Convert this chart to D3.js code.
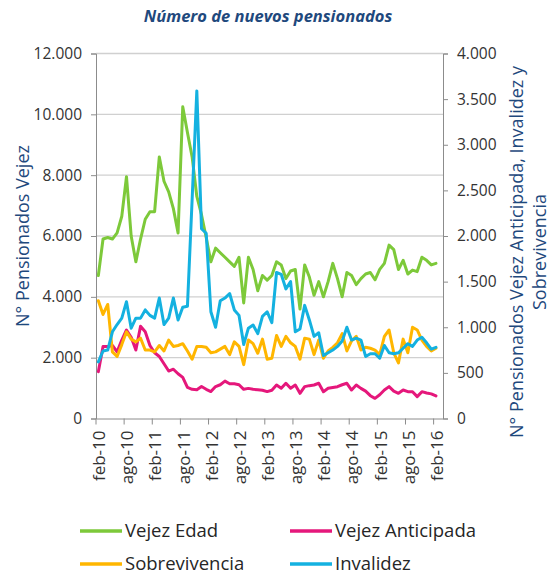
<!DOCTYPE html>
<html lang="es">
<head>
<meta charset="UTF-8">
<title>Número de nuevos pensionados</title>
<script src="https://d3js.org/d3.v7.min.js"></script>
<style>
  body { margin: 0; background: #fff; }
  svg text { font-family: "Open Sans", "Liberation Sans", sans-serif; }
  .tick text { fill: #333; font-size: 15.5px; }
  .x-axis .tick text { font-size: 17px; }
  .domain { stroke: #8c8c8c; }
  .tick line { stroke: #8c8c8c; }
  .grid line { stroke: #d0d0d0; stroke-width: 1.3; }
  .axis-title { fill: #1f497d; font-size: 18px; }
  .legend text { fill: #262626; font-size: 18.5px; }
</style>
</head>
<body>
<div id="chart"></div>
<script>
// months feb-10 .. mar-16 (last category has no data)
const meses = ["ene", "feb", "mar", "abr", "may", "jun", "jul", "ago", "sep", "oct", "nov", "dic"];
const categories = [];
for (let k = 1; k <= 74; k++) {
  const m = k % 12, y = 10 + Math.floor(k / 12);
  categories.push(meses[m] + "-" + y);
}
const tickLabels = ["feb-10", "ago-10", "feb-11", "ago-11", "feb-12", "ago-12", "feb-13",
                    "ago-13", "feb-14", "ago-14", "feb-15", "ago-15", "feb-16"];

// Vejez Edad (left axis)
const vejezEdad = [
  4700, 5900, 5950, 5900, 6100, 6650, 7950, 6000, 5150, 5900,
  6550, 6800, 6800, 8600, 7800, 7450, 6900, 6100, 10250, 9400,
  8600, 7300, 6700, 5950, 5150, 5600, 5450, 5300, 5150, 5000,
  5300, 3800, 5300, 4900, 4200, 4700, 4550, 4700, 5150, 5050,
  4600, 4850, 4900, 3600, 5050, 4650, 4050, 4500, 4000, 4500,
  5100, 4600, 4000, 4800, 4700, 4400, 4600, 4750, 4800, 4560,
  4900, 5100, 5700, 5550, 4900, 5200, 4750, 4880, 4830, 5300,
  5200, 5050, 5100
];
// right axis series
const vejezAnticipada = [
  513, 790, 790, 800, 730, 860, 970, 890, 750, 1010,
  950, 800, 720, 680, 600, 520, 540, 490, 450, 340,
  320, 315, 350, 320, 295, 350, 370, 410, 380, 380,
  370, 320, 330, 320, 315, 310, 295, 310, 367, 331,
  386, 331, 367, 276, 349, 360, 367, 386, 294, 331,
  340, 349, 370, 386, 312, 367, 330, 300, 250, 221,
  260, 312, 349, 300, 276, 312, 294, 294, 240, 294,
  280, 270, 247
];
const sobrevivencia = [
  1290, 1140, 1250, 730, 680, 810, 950, 870, 840, 880,
  750, 750, 730, 800, 740, 860, 790, 800, 820, 740,
  650, 790, 790, 780, 720, 730, 760, 790, 700, 840,
  790, 590, 860, 820, 715, 870, 650, 660, 910, 790,
  900, 830, 790, 650, 880, 870, 700, 860, 660, 740,
  780, 830, 930, 740, 850, 900, 750, 780, 770, 750,
  700, 900, 970, 720, 610, 870, 720, 1000, 970, 860,
  790, 740, 770
];
const invalidez = [
  620, 740, 750, 950, 1030, 1100, 1280, 990, 1100, 1100,
  1190, 1130, 1100, 1320, 1030, 1100, 1320, 1080, 1220, 1230,
  2400, 3590, 2080, 2030, 1170, 1000, 1290, 1320, 1370, 1190,
  1130, 810, 990, 1025, 930, 1120, 1170, 1050, 1600, 1580,
  1420, 1500, 950, 980, 1240, 1080, 900, 940, 690, 720,
  750, 790, 850, 1000, 860, 880, 860, 680, 710, 710,
  660, 800, 720, 710, 720, 770, 820, 790, 860, 890,
  830, 760, 780
];

const series = [
  { name: "Vejez Edad", values: vejezEdad, color: "#7dc93a", axis: "left" },
  { name: "Vejez Anticipada", values: vejezAnticipada, color: "#e5177b", axis: "right" },
  { name: "Sobrevivencia", values: sobrevivencia, color: "#ffb600", axis: "right" },
  { name: "Invalidez", values: invalidez, color: "#14b1e0", axis: "right" }
];

const W = 549, H = 575;
const plotL = 96, plotR = 443, plotT = 53.5, plotB = 418.5;

const svg = d3.select("#chart").append("svg")
  .attr("width", W).attr("height", H);

const x = d3.scaleBand().domain(categories).range([plotL, plotR]).padding(0);
const bw = x.bandwidth();
const yL = d3.scaleLinear().domain([0, 12000]).range([plotB, plotT]);
const yR = d3.scaleLinear().domain([0, 4000]).range([plotB, plotT]);

const fmt = d3.formatLocale({ decimal: ",", thousands: ".", grouping: [3], currency: ["", ""] }).format(",");

// gridlines
svg.append("g").attr("class", "grid")
  .selectAll("line")
  .data(d3.range(2000, 12001, 2000))
  .join("line")
  .attr("x1", plotL).attr("x2", plotR)
  .attr("y1", d => yL(d)).attr("y2", d => yL(d));

// left axis
svg.append("g")
  .attr("transform", `translate(${plotL},0)`)
  .call(d3.axisLeft(yL).tickValues(d3.range(0, 12001, 2000)).tickSize(5).tickPadding(9).tickFormat(fmt));

// right axis
svg.append("g")
  .attr("transform", `translate(${plotR},0)`)
  .call(d3.axisRight(yR).tickValues(d3.range(0, 4001, 500)).tickSize(5).tickPadding(9).tickFormat(fmt));

// bottom axis: labels centred on the month, ticks at month boundary
const xAxis = svg.append("g")
  .attr("class", "x-axis")
  .attr("transform", `translate(0,${plotB})`)
  .call(d3.axisBottom(x).tickValues(tickLabels).tickSize(6).tickSizeOuter(0));
xAxis.selectAll(".tick line").attr("x1", -bw / 2).attr("x2", -bw / 2);
xAxis.selectAll(".tick text")
  .attr("transform", "rotate(-90)")
  .attr("text-anchor", "end")
  .attr("x", -12).attr("y", 0).attr("dy", "0.4em");

// lines
series.forEach(s => {
  const yS = s.axis === "left" ? yL : yR;
  const line = d3.line()
    .x((d, i) => x(categories[i]) + bw / 2)
    .y(d => yS(d));
  svg.append("path")
    .datum(s.values)
    .attr("fill", "none")
    .attr("stroke", s.color)
    .attr("stroke-width", 3)
    .attr("stroke-linejoin", "round")
    .attr("stroke-linecap", "round")
    .attr("d", line);
});

// title
svg.append("text")
  .attr("x", 268).attr("y", 22)
  .attr("text-anchor", "middle")
  .style("font-size", "16.5px").style("font-weight", "bold").style("font-style", "italic")
  .style("fill", "#1f497d")
  .text("Número de nuevos pensionados");

// axis titles
svg.append("text")
  .attr("class", "axis-title")
  .attr("transform", `translate(29,${(plotT + plotB) / 2}) rotate(-90)`)
  .attr("text-anchor", "middle")
  .text("N° Pensionados Vejez");

const rt = svg.append("text")
  .attr("class", "axis-title")
  .attr("transform", `translate(523,${(plotT + plotB) / 2 + 16}) rotate(-90)`)
  .attr("text-anchor", "middle");
rt.append("tspan").attr("x", 0).attr("dy", 0).text("N° Pensionados Vejez Anticipada, Invalidez y");
rt.append("tspan").attr("x", 0).attr("dy", "1.25em").text("Sobrevivencia");

// legend
const legendPos = [[80, 531], [290, 531], [80, 564], [290, 564]];
const legend = svg.append("g").attr("class", "legend");
series.forEach((s, i) => {
  const [lx, ly] = legendPos[i];
  legend.append("line")
    .attr("x1", lx).attr("x2", lx + 42)
    .attr("y1", ly).attr("y2", ly)
    .attr("stroke", s.color).attr("stroke-width", 3.5);
  legend.append("text")
    .attr("x", lx + 45).attr("y", ly + 6)
    .text(s.name);
});
</script>
</body>
</html>
